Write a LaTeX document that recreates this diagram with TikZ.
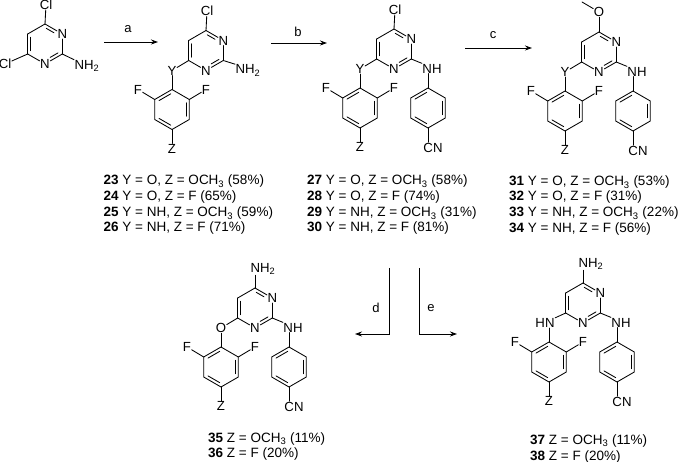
\documentclass[tikz,border=0pt]{standalone}
\usepackage{fontspec}
\setmainfont{Liberation Sans}
\usetikzlibrary{arrows.meta,calc}
\tikzset{
  atom/.style={inner sep=0.4pt,font=\fontsize{13.2}{14}\selectfont},
  bond/.style={line width=0.85pt,line cap=round},
  arr/.style={line width=0.85pt,-{Stealth[length=7pt,width=5pt]}},
  reag/.style={inner sep=0pt,font=\fontsize{13}{14}\selectfont},
  cmpd/.style={inner sep=0pt,anchor=base west,font=\fontsize{13.5}{14}\selectfont}
}
\newcommand{\hexcoords}[3]{%
  \coordinate (#11) at (#2,#3-20);
  \coordinate (#12) at (#2+17.3,#3-10);
  \coordinate (#13) at (#2+17.3,#3+10);
  \coordinate (#14) at (#2,#3+20);
  \coordinate (#15) at (#2-17.3,#3+10);
  \coordinate (#16) at (#2-17.3,#3-10);
  \coordinate (#11i) at (#2,#3-16.4);
  \coordinate (#12i) at (#2+14.2,#3-8.2);
  \coordinate (#13i) at (#2+14.2,#3+8.2);
  \coordinate (#14i) at (#2,#3+16.4);
  \coordinate (#15i) at (#2-14.2,#3+8.2);
  \coordinate (#16i) at (#2-14.2,#3-8.2);
}
\newcommand{\benz}[3]{%
  \hexcoords{#1}{#2}{#3}
  \draw[bond] (#11)--(#12)--(#13)--(#14)--(#15)--(#16)--cycle;
  \draw[bond,shorten <=1.5pt,shorten >=1.5pt] (#11i)--(#16i);
  \draw[bond,shorten <=1.5pt,shorten >=1.5pt] (#12i)--(#13i);
  \draw[bond,shorten <=1.5pt,shorten >=1.5pt] (#14i)--(#15i);
}
\newcommand{\pyrim}{%
  \hexcoords{p}{0}{0}
  \node[atom] (n2) at (p2) {N};
  \node[atom] (n4) at (p4) {N};
  \draw[bond] (p1)--(n2);
  \draw[bond] (n2)--(p3);
  \draw[bond] (p3)--(n4);
  \draw[bond] (n4)--(p5);
  \draw[bond] (p5)--(p6);
  \draw[bond] (p6)--(p1);
  \draw[bond,shorten <=1.5pt,shorten >=6pt] (p1i)--(p2i);
  \draw[bond,shorten <=1.5pt,shorten >=6pt] (p3i)--(p4i);
  \draw[bond,shorten <=1.5pt,shorten >=1.5pt] (p5i)--(p6i);
}
\newcommand{\fring}{%
  \benz{q}{-34}{59}
  \node[atom] (fl) at (-68,39) {F};
  \node[atom] (fr) at (0,39) {F};
  \node[atom] (zz) at (-34,98) {Z};
  \draw[bond] (q6)--(fl);
  \draw[bond] (q2)--(fr);
  \draw[bond] (q4)--(zz);
}
\newcommand{\cnring}{%
  \benz{r}{34}{59}
  \node[atom] (nh) at (38,19.5) {NH};
  \node[atom] (cn) at (39,98.5) {CN};
  \draw[bond] (p3)--(nh.north west);
  \draw[bond] (r1)--(r1 |- nh.south);
  \draw[bond] (r4)--(r4 |- cn.north);
}
\newcommand{\link}[1]{%
  \node[atom] (yy) at (-34,20) {#1};
  \draw[bond] (p5)--(yy);
  \draw[bond] (yy)--(q1);
}
\newcommand{\topcl}{%
  \node[atom] (cl) at (1,-39.5) {Cl};
  \draw[bond] (p1)--(cl);
}
\newcommand{\topnh}{%
  \node[atom] (tn) at (8,-39) {NH\textsubscript{2}};
  \draw[bond] (p1)--(p1 |- tn.south);
}
\newcommand{\lab}[3]{\node[cmpd] at (#1,#2) {#3};}
\newcommand{\ocHthree}{OCH\textsubscript{3}}
\begin{document}
\begin{tikzpicture}[x=1pt,y=-1pt]
\path[use as bounding box,fill=white] (0,0) rectangle (680,462);

% starting material
\begin{scope}[shift={(45,44)},name prefix=s-]
  \pyrim \topcl
  \node[atom] (cl2) at (-40,20) {Cl};
  \node[atom] (nh2) at (42,22) {NH\textsubscript{2}};
  \draw[bond] (p5)--(cl2);
  \draw[bond] (p3)--(nh2.north west);
\end{scope}

% 23-26
\begin{scope}[shift={(206,50.5)},name prefix=a-]
  \pyrim \topcl \fring \link{Y}
  \node[atom] (nh2) at (42,20) {NH\textsubscript{2}};
  \draw[bond] (p3)--(nh2.north west);
\end{scope}

% 27-30
\begin{scope}[shift={(394,49)},name prefix=b-]
  \pyrim \topcl \fring \link{Y} \cnring
\end{scope}

% 31-34
\begin{scope}[shift={(599,52)},name prefix=c-]
  \pyrim \fring \link{Y} \cnring
  \node[atom] (ox) at (0,-40) {O};
  \coordinate (me) at (-17,-50);
  \draw[bond] (p1)--(ox);
  \draw[bond] (ox)--(me);
\end{scope}

% 35-36
\begin{scope}[shift={(255,308)},name prefix=d-]
  \pyrim \topnh \fring \link{O} \cnring
\end{scope}

% 37-38
\begin{scope}[shift={(583,303)},name prefix=e-]
  \pyrim \topnh \fring \cnring
  \node[atom] (hn) at (-38,20) {HN};
  \draw[bond] (p5)--(hn.north east);
  \draw[bond] (q1)--(q1 |- hn.south);
\end{scope}

% arrows
\coordinate (a0) at (104,42); \coordinate (a1) at (158,42);
\coordinate (b0) at (271,43); \coordinate (b1) at (327,43);
\coordinate (c0) at (465,48); \coordinate (c1) at (532,48);
\coordinate (d0) at (389,268); \coordinate (dm) at (389,334); \coordinate (d1) at (355,334);
\coordinate (e0) at (419,268); \coordinate (em) at (419,334); \coordinate (e1) at (457,334);
\draw[arr] (a0)--(a1);
\draw[arr] (b0)--(b1);
\draw[arr] (c0)--(c1);
\draw[arr] (d0)--(dm)--(d1);
\draw[arr] (e0)--(em)--(e1);
\node[reag] (la) at (128,29) {a};
\node[reag] (lb) at (298,32) {b};
\node[reag] (lc) at (493,35) {c};
\node[reag] (ld) at (376,308) {d};
\node[reag] (le) at (431,308) {e};

% compound labels
\lab{103.5}{185}{\textbf{23} Y = O, Z = \ocHthree{} (58\%)}
\lab{103.5}{201}{\textbf{24} Y = O, Z = F (65\%)}
\lab{103.5}{217}{\textbf{25} Y = NH, Z = \ocHthree{} (59\%)}
\lab{103.5}{232}{\textbf{26} Y = NH, Z = F (71\%)}
\lab{307}{185}{\textbf{27} Y = O, Z = \ocHthree{} (58\%)}
\lab{307}{201}{\textbf{28} Y = O, Z = F (74\%)}
\lab{307}{217}{\textbf{29} Y = NH, Z = \ocHthree{} (31\%)}
\lab{307}{232}{\textbf{30} Y = NH, Z = F (81\%)}
\lab{509}{186}{\textbf{31} Y = O, Z = \ocHthree{} (53\%)}
\lab{509}{201}{\textbf{32} Y = O, Z = F (31\%)}
\lab{509}{217}{\textbf{33} Y = NH, Z = \ocHthree{} (22\%)}
\lab{509}{233}{\textbf{34} Y = NH, Z = F (56\%)}
\lab{208}{442}{\textbf{35} Z = \ocHthree{} (11\%)}
\lab{208}{457}{\textbf{36} Z = F (20\%)}
\lab{530}{444}{\textbf{37} Z = \ocHthree{} (11\%)}
\lab{530}{460}{\textbf{38} Z = F (20\%)}
\end{tikzpicture}
\end{document}
